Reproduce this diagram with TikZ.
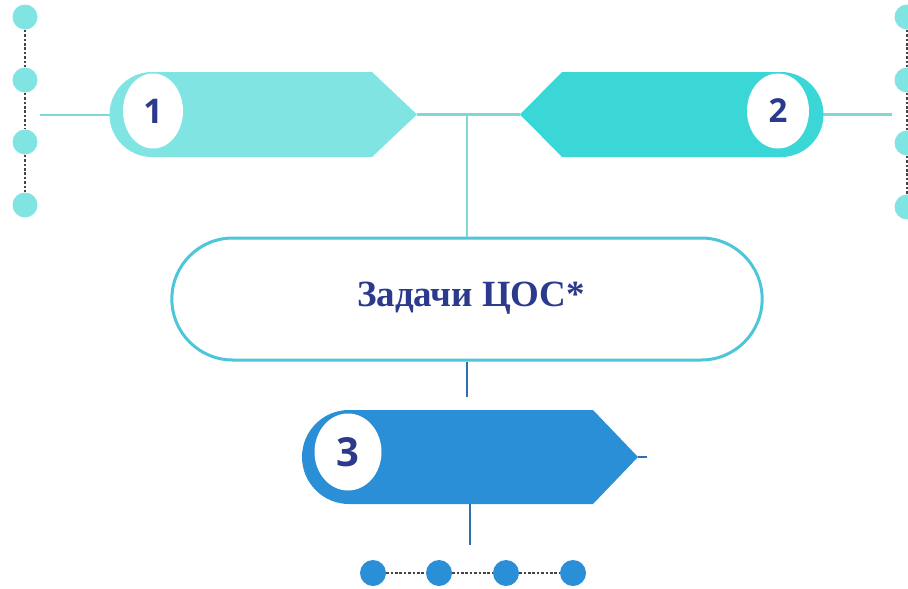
\documentclass[tikz,border=0pt]{standalone}
\usepackage{fontspec}
\setmainfont{Liberation Serif}
\newfontfamily\numfont{Open Sans}
\usetikzlibrary{shapes.geometric,shapes.misc}
\definecolor{cyanA}{HTML}{80E4E2}
\definecolor{cyanB}{HTML}{3BD6D6}
\definecolor{blueC}{HTML}{2A8FD6}
\definecolor{lineT}{HTML}{7ED8D8}
\definecolor{pillT}{HTML}{4CC6D8}
\definecolor{txtB}{HTML}{2B3A8C}
\definecolor{dotLine}{HTML}{444444}
\definecolor{stemB}{HTML}{2F6FB0}
\tikzset{
  conn/.style={draw=lineT, line width=2.5pt},
  dotline/.style={draw=dotLine, line width=2.6pt, dash pattern=on 2.6pt off 1.8pt},
  dotC/.style={circle, fill=cyanA, minimum size=25pt, inner sep=0pt},
  dotB/.style={circle, fill=blueC, minimum size=26pt, inner sep=0pt},
  badge/.style={ellipse, fill=white, inner sep=0pt, text=txtB},
}
\begin{document}
\begin{tikzpicture}[x=1pt,y=1pt]
\useasboundingbox (0,0) rectangle (908,-589);
% left dots
\node[dotC] (l1) at (25,-17) {};
\node[dotC] (l2) at (25,-80) {};
\node[dotC] (l3) at (25,-142) {};
\node[dotC] (l4) at (25,-205) {};
\draw[dotline] (l1.south) -- (l2.north);
\draw[dotline] (l2.south) -- (l3.north);
\draw[dotline] (l3.south) -- (l4.north);
% right dots
\node[dotC] (r1) at (907,-17) {};
\node[dotC] (r2) at (907,-80) {};
\node[dotC] (r3) at (907,-143) {};
\node[dotC] (r4) at (907,-207) {};
\draw[dotline] (r1.south) -- (r2.north);
\draw[dotline] (r2.south) -- (r3.north);
\draw[dotline] (r3.south) -- (r4.north);
% coordinates
\coordinate (a1) at (40,-115);
\coordinate (s1L) at (110,-115);
\coordinate (s1R) at (417,-114.5);
\coordinate (j) at (467,-114.5);
\coordinate (s2L) at (520,-114.5);
\coordinate (s2R) at (823,-114.5);
\coordinate (a2) at (892,-114.5);
% connectors
\draw[conn] (a1) -- (s1L);
\draw[conn] (s1R) -- (s2L);
\draw[conn] (s2R) -- (a2);
% shape 1
\fill[cyanA] (152,-72) -- (372,-72) -- (s1R) -- (372,-157) -- (152,-157)
  arc[start angle=270, end angle=90, radius=42.5pt] -- cycle;
\node[badge, minimum width=60pt, minimum height=75pt, font=\numfont\bfseries\fontsize{34}{34}\selectfont] (b1) at (153,-111) {1};
% shape 2
\fill[cyanB] (781,-72) -- (562,-72) -- (s2L) -- (562,-157) -- (781,-157)
  arc[start angle=-90, end angle=90, radius=42.5pt] -- cycle;
\node[badge, minimum width=62pt, minimum height=75pt, font=\numfont\bfseries\fontsize{33}{33}\selectfont] (b2) at (778,-111) {2};
% pill
\node[draw=pillT, line width=3pt, rounded rectangle, minimum width=597pt, minimum height=122pt] (pill) at (467,-299) {};
\node[text=txtB, font=\bfseries\fontsize{37}{37}\selectfont, inner sep=0pt] (title) at (471,-298) {Задачи ЦОС*};
\draw[conn] (j) -- (pill.north -| j);
% shape 3
\coordinate (s3R) at (638,-457);
\fill[blueC] (349,-410) -- (593,-410) -- (s3R) -- (593,-504) -- (349,-504)
  arc[start angle=270, end angle=90, radius=47pt] -- cycle;
\node[badge, minimum width=67pt, minimum height=77pt, font=\numfont\bfseries\fontsize{40}{40}\selectfont] (b3) at (348,-452) {3};
\coordinate (s3T) at (467,-397);
\coordinate (s3B) at (470,-504);
\coordinate (s3E) at (647,-457);
\coordinate (s3S) at (470,-545);
\draw[draw=stemB, line width=2.5pt] (pill.south -| s3T) -- (s3T);
\draw[draw=stemB, line width=2.5pt] (s3R) -- (s3E);
\draw[draw=stemB, line width=2.5pt] (s3B) -- (s3S);
% bottom dots
\node[dotB] (d1) at (373,-573) {};
\node[dotB] (d2) at (439,-573) {};
\node[dotB] (d3) at (506,-573) {};
\node[dotB] (d4) at (573,-573) {};
\draw[dotline] (d1.east) -- (d2.west);
\draw[dotline] (d2.east) -- (d3.west);
\draw[dotline] (d3.east) -- (d4.west);
\end{tikzpicture}
\end{document}
